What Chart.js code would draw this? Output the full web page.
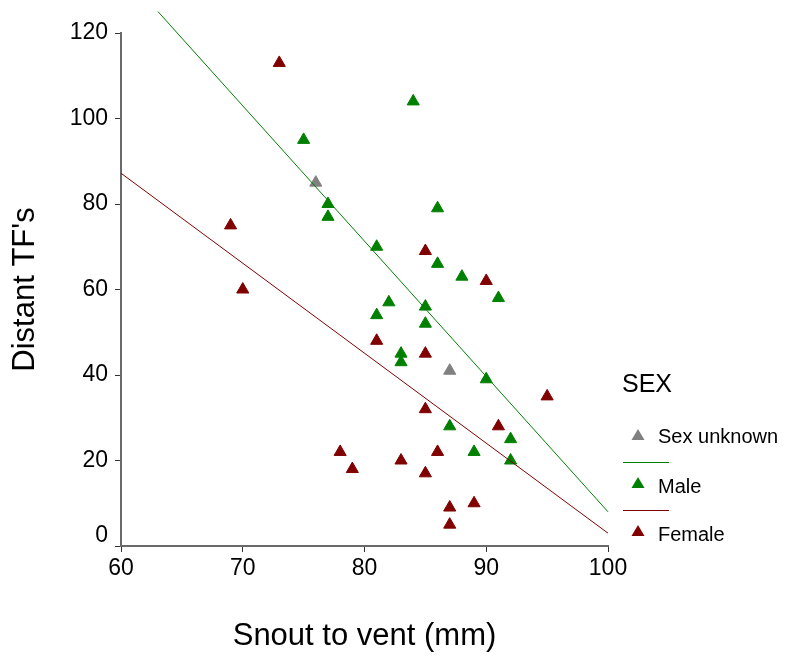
<!DOCTYPE html>
<html>
<head>
<meta charset="utf-8">
<script src="https://cdn.jsdelivr.net/npm/chart.js@4/dist/chart.umd.min.js"></script>
<style>
  html, body { margin: 0; padding: 0; background: #ffffff; }
  #wrap { width: 785px; height: 656px; }
</style>
</head>
<body>
<div id="wrap"><canvas id="c" width="785" height="656"></canvas></div>
<script>
// ---- Data ----
const femaleSVL = [73, 69, 70, 81, 85, 85, 85, 85, 90, 95, 91, 78, 79, 83, 86, 87, 87, 89];
const femaleTF  = [113, 75, 60, 48, 69, 45, 32, 17, 62, 35, 28, 22, 18, 20, 22, 9, 5, 10];

const maleSVL = [75, 84, 77, 77, 81, 86, 86, 88, 91, 82, 81, 85, 85, 83, 83, 90, 87, 92, 89, 92];
const maleTF  = [95, 104, 80, 77, 70, 79, 66, 63, 58, 57, 54, 56, 52, 45, 43, 39, 28, 25, 22, 20];

const unknownSVL = [76, 87];
const unknownTF  = [85, 41];

// fitted lines (end points)
const maleFitX = [63.04, 100];
const maleFitY = [125, 8];
const femaleFitX = [60, 100];
const femaleFitY = [87.2, 3];

const xTicks = [60, 70, 80, 90, 100];
const yTicks = [0, 20, 40, 60, 80, 100, 120];

const seriesNames = ['Sex unknown', 'Male', 'Female'];
const legendTitle = 'SEX';
const xTitle = 'Snout to vent (mm)';
const yTitle = "Distant TF's";

const GREEN = '#008000';
const RED = '#800000';
const GRAY = '#808080';

const pts = (xs, ys) => xs.map((x, i) => ({ x: x, y: ys[i] }));

const FONT = "'Liberation Sans', Arial, sans-serif";

const legendPlugin = {
  id: 'spssLegend',
  afterDraw(chart) {
    const ctx = chart.ctx;
    ctx.save();
    ctx.fillStyle = '#000';
    ctx.textBaseline = 'middle';
    ctx.textAlign = 'left';
    ctx.font = '25px ' + FONT;
    ctx.fillText(legendTitle, 622, 385);

    const tri = (cx, cy, color) => {
      ctx.beginPath();
      ctx.moveTo(cx, cy - 6);
      ctx.lineTo(cx + 6.5, cy + 5);
      ctx.lineTo(cx - 6.5, cy + 5);
      ctx.closePath();
      ctx.fillStyle = color;
      ctx.fill();
    };
    const line = (y, color) => {
      ctx.beginPath();
      ctx.moveTo(623, y);
      ctx.lineTo(669, y);
      ctx.strokeStyle = color;
      ctx.lineWidth = 1;
      ctx.stroke();
    };
    ctx.font = '20px ' + FONT;
    tri(638, 435, GRAY);
    ctx.fillStyle = '#000';
    ctx.fillText(seriesNames[0], 658, 437);

    line(462.5, GREEN);
    tri(638, 483, GREEN);
    ctx.fillStyle = '#000';
    ctx.fillText(seriesNames[1], 658, 487);

    line(510.5, RED);
    tri(638, 531, RED);
    ctx.fillStyle = '#000';
    ctx.fillText(seriesNames[2], 658, 535);
    ctx.restore();
  }
};

const zeroLabelShift = {
  id: 'zeroLabelShift',
  beforeDraw(chart) {
    const y = chart.scales.y;
    const items = y.getLabelItems();
    items.forEach(it => {
      if (String(it.label) === '0' && !it._shifted) {
        it.options.translation[1] -= 10;
        it._shifted = true;
      }
    });
  }
};

const tickFont = { family: FONT, size: 23 };
const titleFont = { family: FONT, size: 31 };

new Chart(document.getElementById('c'), {
  type: 'scatter',
  data: {
    datasets: [
      {
        label: 'Male fit',
        data: pts(maleFitX, maleFitY),
        showLine: true,
        borderColor: GREEN,
        borderWidth: 1,
        pointRadius: 0,
        fill: false,
        clip: false,
        order: 0
      },
      {
        label: 'Female fit',
        data: pts(femaleFitX, femaleFitY),
        showLine: true,
        borderColor: RED,
        borderWidth: 1,
        pointRadius: 0,
        fill: false,
        clip: false,
        order: 0
      },
      {
        label: seriesNames[2],
        data: pts(femaleSVL, femaleTF),
        pointStyle: 'triangle',
        pointRadius: 7,
        backgroundColor: RED,
        borderColor: RED,
        borderWidth: 1,
        order: 1
      },
      {
        label: seriesNames[1],
        data: pts(maleSVL, maleTF),
        pointStyle: 'triangle',
        pointRadius: 7,
        backgroundColor: GREEN,
        borderColor: GREEN,
        borderWidth: 1,
        order: 1
      },
      {
        label: seriesNames[0],
        data: pts(unknownSVL, unknownTF),
        pointStyle: 'triangle',
        pointRadius: 7,
        backgroundColor: GRAY,
        borderColor: GRAY,
        borderWidth: 1,
        order: 1
      }
    ]
  },
  options: {
    responsive: false,
    animation: false,
    events: [],
    layout: { padding: { left: 0, top: 33, right: 177, bottom: 0 } },
    plugins: {
      legend: { display: false },
      tooltip: { enabled: false },
      title: { display: false }
    },
    scales: {
      x: {
        type: 'linear',
        min: 60,
        max: 100,
        afterBuildTicks: (s) => { s.ticks = xTicks.map(v => ({ value: v })); },
        afterFit: (s) => { s.height = 110; },
        ticks: { font: tickFont, color: '#000', padding: 3, maxRotation: 0 },
        grid: { drawOnChartArea: false, drawTicks: true, tickLength: 6, color: '#333', tickWidth: 1 },
        border: { display: true, color: '#6a6a6a', width: 2 },
        title: { display: true, text: xTitle, color: '#000', font: titleFont, padding: { top: 0, bottom: 1 } }
      },
      y: {
        type: 'linear',
        min: 0,
        max: 120,
        afterBuildTicks: (s) => { s.ticks = yTicks.map(v => ({ value: v })); },
        afterFit: (s) => { s.width = 121; },
        ticks: { font: tickFont, color: '#000', padding: 7 },
        grid: { drawOnChartArea: false, drawTicks: true, tickLength: 6, color: '#333', tickWidth: 1 },
        border: { display: true, color: '#6a6a6a', width: 2 },
        title: { display: true, text: yTitle, color: '#000', font: titleFont, padding: { top: 7, bottom: 0 } }
      }
    }
  },
  plugins: [legendPlugin, zeroLabelShift]
});
</script>
</body>
</html>
